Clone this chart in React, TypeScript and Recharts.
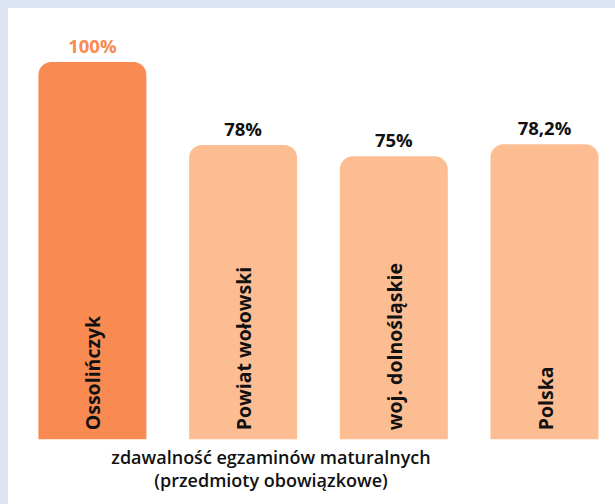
import React from 'react';
import { BarChart, Bar, XAxis, YAxis, Cell, LabelList } from 'recharts';

const categories = ['Ossolińczyk', 'Powiat wołowski', 'woj. dolnośląskie', 'Polska'];
const values = [100, 78, 75, 78.2];
const valueLabels = ['100%', '78%', '75%', '78,2%'];
const barColors = ['#f98a52', '#fdbd93', '#fdbd93', '#fdbd93'];
const labelColors = ['#f98a52', '#111111', '#111111', '#111111'];

const FONT = '"Open Sans", sans-serif';

const data = categories.map((name, i) => ({ name, value: values[i], label: valueLabels[i] }));

const ValueLabel = (props: any) => {
  const { x, y, width, index } = props;
  return (
    <text
      x={x + width / 2}
      y={y - 9}
      textAnchor="middle"
      fill={labelColors[index]}
      fontFamily={FONT}
      fontWeight={700}
      fontSize={18.5}
    >
      {valueLabels[index]}
    </text>
  );
};

const NameLabel = (props: any) => {
  const { x, y, width, height, index } = props;
  const cx = x + width / 2 + 8;
  const bottom = y + height - 9;
  return (
    <text
      transform={`translate(${cx}, ${bottom}) rotate(-90)`}
      textAnchor="start"
      fill="#111111"
      fontFamily={FONT}
      fontWeight={700}
      fontSize={19.5}
    >
      {categories[index]}
    </text>
  );
};

export default function App() {
  return (
    <div
      style={{
        position: 'absolute',
        left: 0,
        top: 0,
        width: 615,
        height: 504,
        background: '#dce3f2',
        overflow: 'hidden',
        fontFamily: FONT,
      }}
    >
      <div style={{ position: 'absolute', left: 8, top: 8, right: 0, bottom: 0, background: '#ffffff' }} />
      <div style={{ position: 'absolute', left: 0, top: 0 }}>
        <BarChart
          width={630}
          height={504}
          data={data}
          margin={{ top: 62, right: 9.8, left: 17.4, bottom: 64.7 }}
        >
          <XAxis dataKey="name" hide />
          <YAxis domain={[0, 100]} hide />
          <Bar dataKey="value" barSize={108} radius={[13, 13, 0, 0]} isAnimationActive={false}>
            {data.map((d, i) => (
              <Cell key={d.name} fill={barColors[i]} />
            ))}
            <LabelList dataKey="label" content={ValueLabel} />
            <LabelList dataKey="name" content={NameLabel} />
          </Bar>
        </BarChart>
      </div>
      <div
        style={{
          position: 'absolute',
          left: 71,
          top: 446,
          width: 400,
          textAlign: 'center',
          fontSize: 18,
          lineHeight: '23px',
          fontWeight: 600,
          color: '#111111',
        }}
      >
        zdawalność egzaminów maturalnych
        <br />
        (przedmioty obowiązkowe)
      </div>
    </div>
  );
}
